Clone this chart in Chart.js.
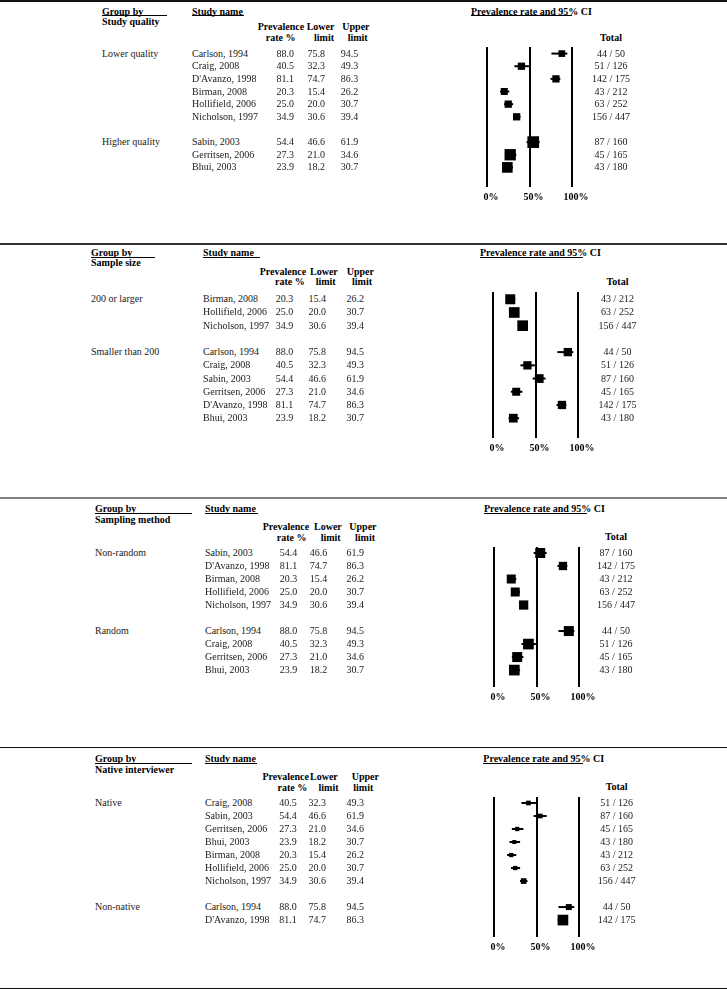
<!DOCTYPE html>
<html>
<head>
<meta charset="utf-8">
<script src="https://cdn.jsdelivr.net/npm/chart.js@4.4.0/dist/chart.umd.min.js"></script>
<style>
html,body{margin:0;padding:0;background:#fff;}
body{width:727px;height:992px;position:relative;overflow:hidden;font-family:"Liberation Serif","Times New Roman",serif;font-size:10px;color:#1a1a1a;}
.t{position:absolute;white-space:nowrap;line-height:12px;height:12px;}
.b{font-weight:bold;color:#000;}
.ln{position:absolute;}
canvas{position:absolute;}
</style>
</head>
<body>
<script>
// ---------------- data ----------------
const studyNames = ["Carlson, 1994","Craig, 2008","D'Avanzo, 1998","Birman, 2008","Hollifield, 2006","Nicholson, 1997","Sabin, 2003","Gerritsen, 2006","Bhui, 2003"];
const prevalenceRate = [88.0,40.5,81.1,20.3,25.0,34.9,54.4,27.3,23.9];
const lowerLimit     = [75.8,32.3,74.7,15.4,20.0,30.6,46.6,21.0,18.2];
const upperLimit     = [94.5,49.3,86.3,26.2,30.7,39.4,61.9,34.6,30.7];
const eventCounts    = [44,51,142,43,63,156,87,45,43];
const sampleTotals   = [50,126,175,212,252,447,160,165,180];
const xTickValues    = [0,50,100];

const groupingTitles = ["Study quality","Sample size","Sampling method","Native interviewer"];
const subgroupLabels = [["Lower quality","Higher quality"],["200 or larger","Smaller than 200"],["Non-random","Random"],["Native","Non-native"]];
// indices into studyNames, per subgroup, in display order
const subgroupMembers = [
  [[0,1,2,3,4,5],[6,7,8]],
  [[3,4,5],[0,1,6,7,2,8]],
  [[6,2,3,4,5],[0,1,7,8]],
  [[1,6,7,8,3,4,5],[0,2]]
];
// relative study weights (marker area), in display order
const studyWeights = [
  [45,53,53,49,53,53,137,128,114],
  [100,114,114,69,69,76,64,69,76],
  [100,69,81,81,86,100,114,100,114],
  [22,22,18.5,16,18.5,18.5,32,36,114]
];

// ---------------- layout ----------------
const PLOTW = 85, PADL = 20, PADR = 20, PADT = 10, PADB = 4, AXH = 20;
const separators = [
  {y:0,    h:1.5, c:'#111'},
  {y:243.3,h:1.7, c:'#333'},
  {y:497,  h:2.4, c:'#808080'},
  {y:746.5,h:1.7, c:'#111'},
  {y:987.5,h:1.7, c:'#111'}
];
const panelLayout = [
  {groupX:102, studyX:192, rateR:294, lowerR:325, upperR:358.3,
   h:{prev:[257.7,27.3],rate:[265.7,38.3],low:[306.7,27.3],lim1:[314,38.3],up:[342.3,27.3],lim2:[347.7,38.3]},
   gUL:[102,167], sUL:[192,244], titleX:471, titleUL:571.7, totalC:611, yTitle:11.7, yGroup2:22.3, yTotal:37.7,
   x0:487, plotTop:47, plotH:140, yMin:-0.52, yMax:10.55},
  {groupX:91, studyX:203, rateR:293.3, lowerR:326, upperR:364,
   h:{prev:[259.7,271.7],rate:[275,282.3],low:[310,271.7],lim1:[315.7,282.3],up:[346.7,271.7],lim2:[352,282.3]},
   gUL:[91,155], sUL:[203,260], titleX:480, titleUL:583.3, totalC:617.5, yTitle:253.3, yGroup2:263, yTotal:281.7,
   x0:493, plotTop:292, plotH:146, yMin:-0.55, yMax:10.5},
  {groupX:95, studyX:205, rateR:297.3, lowerR:327.3, upperR:364,
   h:{prev:[262.7,526.7],rate:[276.7,538.3],low:[314,526.7],lim1:[320.7,538.3],up:[349.3,526.7],lim2:[355,538.3]},
   gUL:[95,191.7], sUL:[205,258], titleX:484, titleUL:586.7, totalC:616, yTitle:509.3, yGroup2:520, yTotal:536.7,
   x0:494, plotTop:547, plotH:140, yMin:-0.46, yMax:10.3},
  {groupX:95, studyX:205, rateR:296.7, lowerR:326, upperR:364,
   h:{prev:[262.5,776.7],rate:[277.5,788.3],low:[310,776.7],lim1:[318.5,788.3],up:[351.7,776.7],lim2:[353.3,788.3]},
   gUL:[95,191.7], sUL:[205,257], titleX:483.3, titleUL:582.7, totalC:616.7, yTitle:759.3, yGroup2:770, yTotal:786.7,
   x0:494, plotTop:797, plotH:140, yMin:-0.46, yMax:10.3}
];

// ---------------- helpers ----------------
function txt(s, x, y, opts) {
  opts = opts || {};
  const d = document.createElement('div');
  d.className = 't' + (opts.bold ? ' b' : '');
  d.textContent = s;
  d.style.top = (y - 6) + 'px';
  if (opts.align === 'right') { d.style.right = (727 - x) + 'px'; }
  else if (opts.align === 'center') { d.style.left = (x - 50) + 'px'; d.style.width = '100px'; d.style.textAlign = 'center'; }
  else { d.style.left = x + 'px'; }
  document.body.appendChild(d);
  return d;
}
function hline(x1, x2, y, h, c) {
  const d = document.createElement('div');
  d.className = 'ln';
  d.style.left = x1 + 'px'; d.style.width = (x2 - x1) + 'px';
  d.style.top = y + 'px'; d.style.height = h + 'px'; d.style.background = c;
  document.body.appendChild(d);
}

separators.forEach(s => hline(0, 727, s.y, s.h, s.c));

panelLayout.forEach((L, p) => {
  // headers
  txt('Group by', L.groupX, L.yTitle, {bold:true});
  hline(L.gUL[0], L.gUL[1], L.yTitle + 3.6, 1, '#000');
  txt(groupingTitles[p], L.groupX, L.yGroup2, {bold:true});
  txt('Study name', L.studyX, L.yTitle, {bold:true});
  hline(L.sUL[0], L.sUL[1], L.yTitle + 3.6, 1, '#000');
  txt('Prevalence', L.h.prev[0], L.h.prev[1], {bold:true});
  txt('rate %', L.h.rate[0], L.h.rate[1], {bold:true});
  txt('Lower', L.h.low[0], L.h.low[1], {bold:true});
  txt('limit', L.h.lim1[0], L.h.lim1[1], {bold:true});
  txt('Upper', L.h.up[0], L.h.up[1], {bold:true});
  txt('limit', L.h.lim2[0], L.h.lim2[1], {bold:true});
  txt('Prevalence rate and 95% CI', L.titleX, L.yTitle, {bold:true});
  hline(L.titleX, L.titleUL, L.yTitle + 3.6, 1, '#000');
  txt('Total', L.totalC, L.yTotal, {bold:true, align:'center'});

  // rows
  const order = [], rows = [], groupStart = [];
  let r = 0;
  subgroupMembers[p].forEach(m => {
    groupStart.push(r);
    m.forEach(si => { order.push(si); rows.push(r); r++; });
    r++;
  });

  // chart
  const W = PLOTW + PADL + PADR, H = L.plotH + PADT + PADB + AXH;
  const cv = document.createElement('canvas');
  cv.width = W; cv.height = H;
  cv.style.width = W + 'px'; cv.style.height = H + 'px';
  const cLeft = L.x0 - PADL, cTop = L.plotTop - PADT;
  cv.style.left = cLeft + 'px'; cv.style.top = cTop + 'px';
  document.body.appendChild(cv);

  const ciSets = order.map((si, k) => ({
    type: 'scatter', showLine: true,
    data: [{x: lowerLimit[si], y: rows[k]}, {x: upperLimit[si], y: rows[k]}],
    borderColor: '#000', borderWidth: 2, pointRadius: 0, pointHoverRadius: 0, order: 2
  }));
  const squares = {
    type: 'scatter',
    data: order.map((si, k) => ({x: prevalenceRate[si], y: rows[k]})),
    pointStyle: 'rect',
    pointRadius: studyWeights[p].map(w => Math.sqrt(w / 2)),
    pointHoverRadius: studyWeights[p].map(w => Math.sqrt(w / 2)),
    backgroundColor: '#000', borderWidth: 0, order: 1
  };

  const chart = new Chart(cv, {
    type: 'scatter',
    data: { datasets: [...ciSets, squares] },
    options: {
      responsive: false, animation: false, events: [],
      layout: { padding: {left: PADL, right: PADR, top: PADT, bottom: PADB} },
      plugins: { legend: {display: false}, tooltip: {enabled: false} },
      scales: {
        x: {
          type: 'linear', min: 0, max: 100,
          afterBuildTicks: s => { s.ticks = xTickValues.map(v => ({value: v})); },
          ticks: { padding: 4, labelOffset: 4, color: '#000',
                   font: {family: 'Liberation Serif', size: 10, weight: 'bold'},
                   callback: v => v + '%' },
          grid: { color: '#000', lineWidth: 2, drawTicks: false },
          border: { display: false }
        },
        y: { type: 'linear', display: false, reverse: true, min: L.yMin, max: L.yMax }
      }
    }
  });

  const ys = chart.scales.y;
  const rowY = v => cTop + ys.getPixelForValue(v);
  subgroupLabels[p].forEach((g, gi) => txt(g, L.groupX, rowY(groupStart[gi])));
  order.forEach((si, k) => {
    const y = rowY(rows[k]);
    txt(studyNames[si], L.studyX, y);
    txt(prevalenceRate[si].toFixed(1), L.rateR, y, {align:'right'});
    txt(lowerLimit[si].toFixed(1), L.lowerR, y, {align:'right'});
    txt(upperLimit[si].toFixed(1), L.upperR, y, {align:'right'});
    txt(eventCounts[si] + ' / ' + sampleTotals[si], L.totalC, y, {align:'center'});
  });
});
</script>
</body>
</html>
